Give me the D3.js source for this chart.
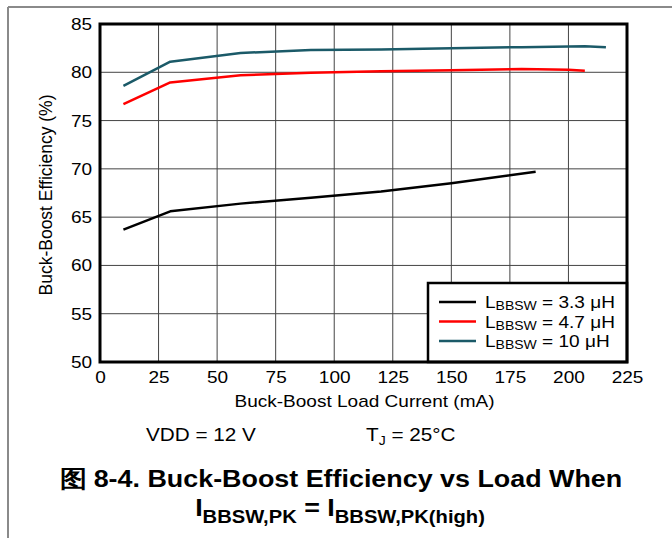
<!DOCTYPE html>
<html>
<head>
<meta charset="utf-8">
<script src="https://cdn.jsdelivr.net/npm/d3@7"></script>
<style>
	body { margin: 0; background: #fff; }
	text { font-family: "Liberation Sans", Arial, sans-serif; }
</style>
</head>
<body>
<svg id="chart" width="672" height="538"></svg>
<script>
// values
const load33 = [10, 30, 60, 90, 120, 150, 186];
const eff33 = [63.7, 65.6, 66.4, 67.0, 67.65, 68.5, 69.7];
const load47 = [10, 30, 60, 90, 120, 150, 180, 200, 207];
const eff47 = [76.7, 78.95, 79.7, 79.95, 80.1, 80.2, 80.35, 80.25, 80.15];
const load10 = [10, 30, 60, 90, 120, 150, 180, 207, 216];
const eff10 = [78.6, 81.1, 82.0, 82.3, 82.35, 82.5, 82.6, 82.7, 82.6];

const xTicks = [0, 25, 50, 75, 100, 125, 150, 175, 200, 225];
const yTicks = [50, 55, 60, 65, 70, 75, 80, 85];
const seriesNames = ['3.3', '4.7', '10'];
const seriesColors = ['#000000', '#ff0000', '#1b5a68'];

const svg = d3.select('#chart');
const plot = { left: 100, top: 24, right: 627, bottom: 362 };
// the reference text is a little wider than plain Arial
const stretch = 1.12;

const x = d3.scaleLinear().domain([0, 225]).range([plot.left, plot.right]);
const y = d3.scaleLinear().domain([50, 85]).range([plot.bottom, plot.top]);

function wideText(px, py, size) {
	return svg.append('text')
		.attr('transform', `translate(${px},${py}) scale(${stretch},1)`)
		.attr('font-size', size);
}

// page frame lines
svg.append('line')
	.attr('x1', 8).attr('y1', 7).attr('x2', 672).attr('y2', 7)
	.attr('stroke', '#8a8a8a').attr('stroke-width', 2);
svg.append('line')
	.attr('x1', 8).attr('y1', 7).attr('x2', 8).attr('y2', 538)
	.attr('stroke', '#8a8a8a').attr('stroke-width', 2);

// grid
svg.append('g')
	.selectAll('line')
	.data(xTicks.slice(1, -1))
	.join('line')
	.attr('x1', d => x(d)).attr('x2', d => x(d))
	.attr('y1', plot.top).attr('y2', plot.bottom)
	.attr('stroke', '#444').attr('stroke-width', 1);
svg.append('g')
	.selectAll('line')
	.data(yTicks.slice(1, -1))
	.join('line')
	.attr('x1', plot.left).attr('x2', plot.right)
	.attr('y1', d => y(d)).attr('y2', d => y(d))
	.attr('stroke', '#444').attr('stroke-width', 1);

// tick labels via axes, with ticks and domain hidden
const xAxis = svg.append('g')
	.attr('transform', `translate(0,${plot.bottom})`)
	.call(d3.axisBottom(x).tickValues(xTicks).tickSize(0).tickPadding(9));
const yAxis = svg.append('g')
	.attr('transform', `translate(${plot.left},0)`)
	.call(d3.axisLeft(y).tickValues(yTicks).tickSize(0).tickPadding(7));
[xAxis, yAxis].forEach(a => {
	a.select('.domain').remove();
	a.selectAll('text')
		.attr('font-family', '"Liberation Sans", Arial, sans-serif')
		.attr('font-size', 17)
		.attr('fill', '#000')
		.attr('transform', `scale(${stretch},1)`);
});

// series
const series = [
	load33.map((v, i) => [v, eff33[i]]),
	load47.map((v, i) => [v, eff47[i]]),
	load10.map((v, i) => [v, eff10[i]]),
];
const line = d3.line().x(d => x(d[0])).y(d => y(d[1]));
series.forEach((s, i) => {
	svg.append('path')
		.datum(s)
		.attr('d', line)
		.attr('fill', 'none')
		.attr('stroke', seriesColors[i])
		.attr('stroke-width', 2.5)
		.attr('stroke-linejoin', 'round');
});

// legend
const lg = { x: 428, y: 283 };
svg.append('rect')
	.attr('x', lg.x).attr('y', lg.y)
	.attr('width', plot.right - lg.x).attr('height', plot.bottom - lg.y)
	.attr('fill', '#fff').attr('stroke', '#000').attr('stroke-width', 2.5);
seriesNames.forEach((n, i) => {
	const ly = 302 + i * 19.5;
	svg.append('line')
		.attr('x1', 439).attr('x2', 476)
		.attr('y1', ly).attr('y2', ly)
		.attr('stroke', seriesColors[i]).attr('stroke-width', 2.5);
	const t = wideText(485, ly + 6, 17);
	t.append('tspan').text('L');
	t.append('tspan').attr('font-size', 12.5).attr('dy', 2).text('BBSW');
	t.append('tspan').attr('dy', -2).text(` = ${n} \u03bcH`);
});

// frame
svg.append('rect')
	.attr('x', plot.left).attr('y', plot.top)
	.attr('width', plot.right - plot.left).attr('height', plot.bottom - plot.top)
	.attr('fill', 'none').attr('stroke', '#000').attr('stroke-width', 3);

// axis titles
wideText((plot.left + plot.right) / 2 + 1, 407, 17)
	.attr('text-anchor', 'middle')
	.text('Buck-Boost Load Current (mA)');
svg.append('text')
	.attr('transform', `translate(52,${(plot.top + plot.bottom) / 2 + 2}) rotate(-90)`)
	.attr('text-anchor', 'middle').attr('font-size', 17.5)
	.text('Buck-Boost Efficiency (%)');

// conditions
wideText(146, 441, 18.5).text('VDD = 12 V');
const tj = wideText(366, 441, 18.5);
tj.append('tspan').text('T');
tj.append('tspan').attr('font-size', 12.5).attr('dy', 4).text('J');
tj.append('tspan').attr('dy', -4).text(' = 25\u00b0C');

// caption
wideText(341, 487, 24)
	.attr('text-anchor', 'middle').attr('font-weight', 'bold')
	.text('\u56fe 8-4. Buck-Boost Efficiency vs Load When');
const cap = wideText(340, 516, 24)
	.attr('text-anchor', 'middle').attr('font-weight', 'bold');
cap.append('tspan').text('I');
cap.append('tspan').attr('font-size', 18).attr('dy', 7).text('BBSW,PK');
cap.append('tspan').attr('dy', -7).text(' = I');
cap.append('tspan').attr('font-size', 18).attr('dy', 7).text('BBSW,PK(high)');
</script>
</body>
</html>
